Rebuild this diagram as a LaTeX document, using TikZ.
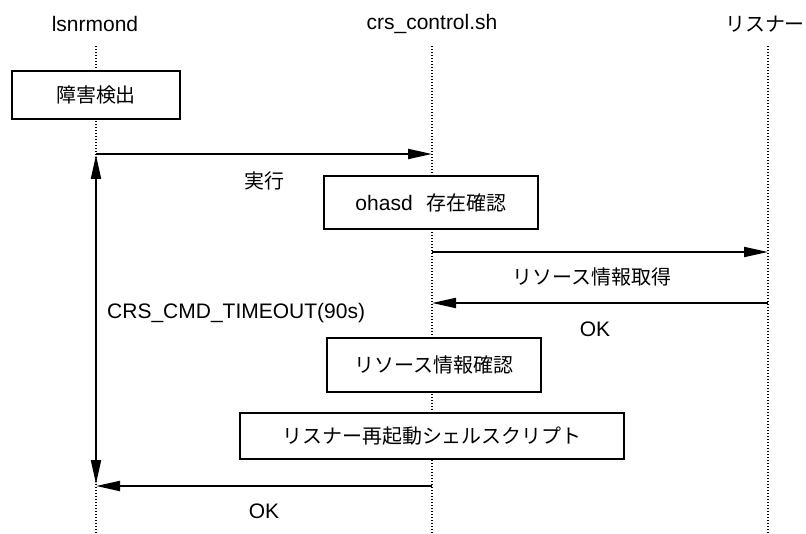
\documentclass[tikz,border=0pt]{standalone}
\usepackage{fontspec}
\setmainfont{Liberation Sans}
\newfontfamily\jp{Noto Sans CJK JP}[Scale=0.95]
\usetikzlibrary{arrows.meta}
\begin{document}
\begin{tikzpicture}[x=1pt,y=-1pt,
  every node/.style={font=\fontsize{21}{25}\selectfont, inner sep=0pt},
  lifeline/.style={line width=1.1pt, dash pattern=on 1pt off 2pt},
  procbox/.style={draw, line width=1.6pt, fill=white},
  msg/.style={line width=2pt, -{Triangle[length=24pt,width=10pt]}},
  dmsg/.style={line width=2pt, {Triangle[length=24pt,width=10pt]}-{Triangle[length=24pt,width=10pt]}},
  ]
\useasboundingbox (0,0) rectangle (806,534);
% headers
\node (hl) at (95,24) {lsnrmond};
\node (hc) at (432,24) {crs\_control.sh};
\node (hr) at (765,24) {\jp リスナー};
% lifelines
\coordinate (ltop) at (96,46);  \coordinate (lbot) at (96,534);
\coordinate (ctop) at (432,46); \coordinate (cbot) at (432,534);
\coordinate (rtop) at (768,46); \coordinate (rbot) at (768,534);
\draw[lifeline] (ltop) -- (lbot);
\draw[lifeline] (ctop) -- (cbot);
\draw[lifeline] (rtop) -- (rbot);
% boxes
\node[procbox, minimum width=168pt, minimum height=48pt] (b0) at (96,95) {\jp 障害検出};
\node[procbox, minimum width=214pt, minimum height=53pt] (b1) at (431,202.5) {ohasd\hspace{14pt}{\jp 存在確認}};
\node[procbox, minimum width=214pt, minimum height=54pt] (b2) at (434,365) {\jp リソース情報確認};
\node[procbox, minimum width=384pt, minimum height=46pt] (b3) at (432,436) {\jp リスナー再起動シェルスクリプト};
% message points
\coordinate (m1a) at (96,154);  \coordinate (m1b) at (432,154);
\coordinate (m2a) at (432,252); \coordinate (m2b) at (768,252);
\coordinate (m3a) at (768,303); \coordinate (m3b) at (432,303);
\coordinate (m4a) at (432,486); \coordinate (m4b) at (96,486);
\coordinate (va) at (96,155);   \coordinate (vb) at (96,484);
% messages
\draw[msg] (m1a) -- (m1b);
\draw[msg] (m2a) -- (m2b);
\draw[msg] (m3a) -- (m3b);
\draw[msg] (m4a) -- (m4b);
\draw[dmsg] (va) -- (vb);
% labels
\node (t1) at (264,181) {\jp 実行};
\node (t2) at (592,277) {\jp リソース情報取得};
\node (t3) at (595,329) {OK};
\node (t4) at (264,511) {OK};
\node[anchor=west] (t5) at (107,313) {CRS\_CMD\_TIMEOUT(90s)};
\end{tikzpicture}
\end{document}
